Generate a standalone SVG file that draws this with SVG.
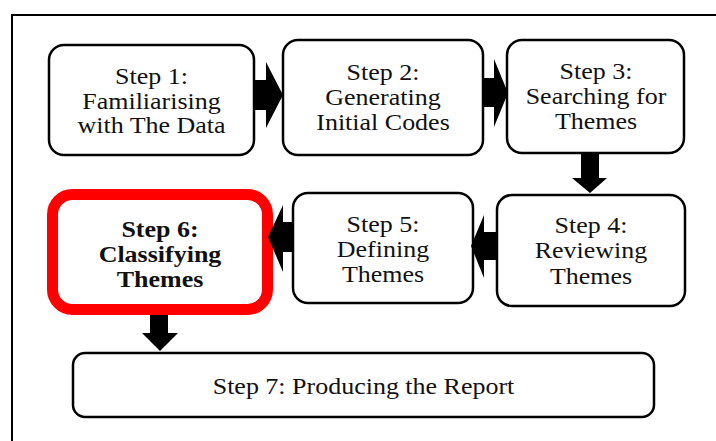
<svg xmlns="http://www.w3.org/2000/svg" width="716" height="441" viewBox="0 0 716 441">
<style>
.box{fill:#fff;stroke:#000;stroke-width:2.5}
.red{fill:#fff;stroke:#f00;stroke-width:11}
.t{font-family:"Liberation Serif","Times New Roman",serif;font-size:23px;fill:#111;text-anchor:middle}
.b{font-weight:bold}
.arr{fill:#000}
</style>
<rect width="716" height="441" fill="#fff"/>
<path d="M12 441 V15 H716" fill="none" stroke="#000" stroke-width="2"/>
<g id="step1">
<rect class="box" x="49" y="45" width="205" height="110" rx="15"/>
<g transform="translate(151.5 0) scale(1.13 1)"><text class="t" x="0" y="84">Step 1:</text><text class="t" x="0" y="109">Familiarising</text><text class="t" x="0" y="133">with The Data</text></g>
</g>
<g id="step2">
<rect class="box" x="283" y="40" width="200" height="115" rx="15"/>
<g transform="translate(383 0) scale(1.13 1)"><text class="t" x="0" y="80">Step 2:</text><text class="t" x="0" y="105">Generating</text><text class="t" x="0" y="130">Initial Codes</text></g>
</g>
<g id="step3">
<rect class="box" x="507" y="40" width="177" height="113" rx="15"/>
<g transform="translate(596 0) scale(1.13 1)"><text class="t" x="0" y="79">Step 3:</text><text class="t" x="0" y="104">Searching for</text><text class="t" x="0" y="129">Themes</text></g>
</g>
<g id="step4">
<rect class="box" x="497" y="195" width="188" height="111" rx="15"/>
<g transform="translate(591 0) scale(1.13 1)"><text class="t" x="0" y="233">Step 4:</text><text class="t" x="0" y="258">Reviewing</text><text class="t" x="0" y="284">Themes</text></g>
</g>
<g id="step5">
<rect class="box" x="293" y="193" width="180" height="110" rx="15"/>
<g transform="translate(383 0) scale(1.13 1)"><text class="t" x="0" y="232">Step 5:</text><text class="t" x="0" y="257">Defining</text><text class="t" x="0" y="282">Themes</text></g>
</g>
<g id="step6">
<rect class="red" x="52.5" y="194.5" width="215" height="115" rx="20"/>
<g transform="translate(160 0) scale(1.13 1)"><text class="t b" x="0" y="237">Step 6:</text><text class="t b" x="0" y="262">Classifying</text><text class="t b" x="0" y="287">Themes</text></g>
</g>
<g id="step7">
<rect class="box" x="73" y="353" width="581" height="64" rx="12"/>
<g transform="translate(363.5 0) scale(1.13 1)"><text class="t" x="0" y="394">Step 7: Producing the Report</text></g>
</g>
<g id="connectors">
<polygon class="arr" points="254,80 266,80 266,62 283,95 266,128 266,110 254,110"/>
<polygon class="arr" points="483,78 494,78 494,59 508,93 494,127 494,107 483,107"/>
<polygon class="arr" points="581,153 599,153 599,178 607,178 590,193 572,178 581,178"/>
<polygon class="arr" points="497,232 484,232 484,215 471,246 484,278 484,260 497,260"/>
<polygon class="arr" points="293,222 283,222 283,205 268,237 283,272 283,252 293,252"/>
<polygon class="arr" points="150,315 168,315 168,333 178,333 160,351 142,333 150,333"/>
</g>
</svg>
